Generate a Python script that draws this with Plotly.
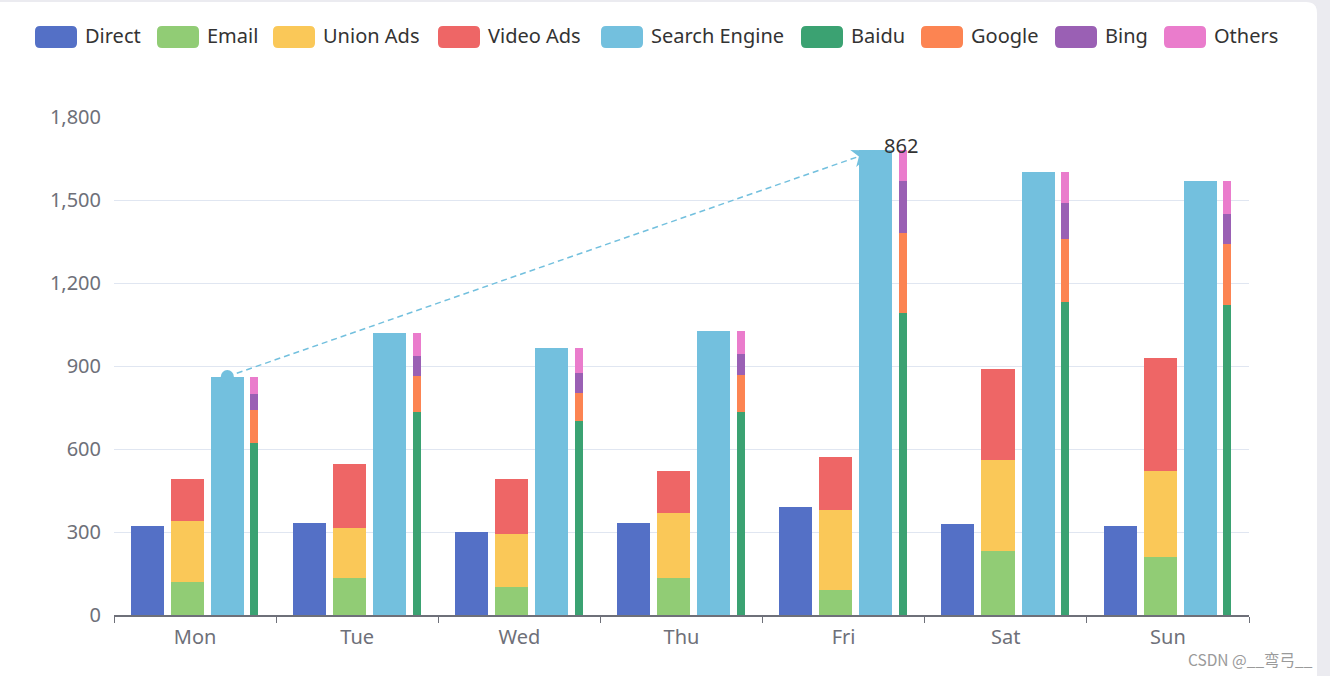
import math
import plotly.graph_objects as go

# ---------------- data ----------------
days = ["Mon", "Tue", "Wed", "Thu", "Fri", "Sat", "Sun"]
direct = [320, 332, 301, 334, 390, 330, 320]
email = [120, 132, 101, 134, 90, 230, 210]
union_ads = [220, 182, 191, 234, 290, 330, 310]
video_ads = [150, 232, 201, 154, 190, 330, 410]
search_engine = [862, 1018, 964, 1026, 1679, 1600, 1570]
baidu = [620, 732, 701, 734, 1090, 1130, 1120]
google = [120, 132, 101, 134, 290, 230, 220]
bing = [60, 72, 71, 74, 190, 130, 110]
others = [62, 82, 91, 84, 109, 110, 120]
y_ticks = [0, 300, 600, 900, 1200, 1500, 1800]

# ---------------- style ----------------
colors = {
    "Direct": "#5470c6", "Email": "#91cc75", "Union Ads": "#fac858",
    "Video Ads": "#ee6666", "Search Engine": "#73c0de", "Baidu": "#3ba272",
    "Google": "#fc8452", "Bing": "#9a60b4", "Others": "#ea7ccc",
}
FONT = "Noto Sans"
W_PX, H_PX = 1330, 676
ML, MR, MT, MB = 114, 81, 117, 61
PW, PH = W_PX - ML - MR, H_PX - MT - MB
CAT_PX = PW / len(days)
Y_MAX = 1800

def fx(p):  # pixel -> paper x
    return (p - ML) / PW

def fy(p):  # pixel -> paper y
    return (H_PX - MB - p) / PH

# bar geometry in category units
BW = 0.204
OFF_DIRECT, OFF_EMAIL, OFF_SEARCH, OFF_BAIDU = -0.397, -0.150, 0.097, 0.341
BW_THIN = 0.050

fig = go.Figure()

def add_stack(names_vals, offset, width):
    base = [0] * len(days)
    for name, vals in names_vals:
        fig.add_trace(go.Bar(
            x=days, y=vals, base=list(base), name=name,
            offset=offset, width=width,
            marker=dict(color=colors[name], line=dict(width=0)),
            showlegend=False,
        ))
        base = [b + v for b, v in zip(base, vals)]

add_stack([("Direct", direct)], OFF_DIRECT, BW)
add_stack([("Email", email), ("Union Ads", union_ads), ("Video Ads", video_ads)], OFF_EMAIL, BW)
add_stack([("Search Engine", search_engine)], OFF_SEARCH, BW)
add_stack([("Baidu", baidu), ("Google", google), ("Bing", bing), ("Others", others)], OFF_BAIDU, BW_THIN)

shapes = []
annotations = []

# card background
r = 11
cx0, cx1, cy0, cy1 = 0, 1317, 2, 700
path = (f"M {fx(cx0)} {fy(cy0)} L {fx(cx1 - r)} {fy(cy0)} "
        f"Q {fx(cx1)} {fy(cy0)} {fx(cx1)} {fy(cy0 + r)} "
        f"L {fx(cx1)} {fy(cy1)} L {fx(cx0)} {fy(cy1)} Z")
shapes.append(dict(type="path", xref="paper", yref="paper", path=path,
                   fillcolor="white", line=dict(width=0), layer="below"))

# markLine min -> max on Search Engine
smin, smax = min(search_engine), max(search_engine)
imin, imax = search_engine.index(smin), search_engine.index(smax)
cen = OFF_SEARCH + BW / 2
x_start, x_end = imin + cen, imax + cen
ml_color = "#73c0de"
shapes.append(dict(type="line", xref="x", yref="y", x0=x_start, y0=smin, x1=x_end, y1=smax,
                   line=dict(color=ml_color, width=1.5, dash="6px,4px"), layer="above"))
# start circle
shapes.append(dict(type="circle", xref="x", yref="y", xsizemode="pixel", ysizemode="pixel",
                   xanchor=x_start, yanchor=smin, x0=-6.5, x1=6.5, y0=-6.5, y1=6.5,
                   fillcolor=ml_color, line=dict(width=0), layer="above"))
# arrow head at end (ECharts-style arrow symbol)
dxp = (x_end - x_start) * CAT_PX
dyp = (smax - smin) / Y_MAX * PH
ang = math.atan2(dyp, dxp)
ux, uy = math.cos(ang), math.sin(ang)
nx, ny = -uy, ux
L, HW, NOTCH = 24, 9, 18
pts = [(0, 0), (-L * ux + HW * nx, -L * uy + HW * ny), (-NOTCH * ux, -NOTCH * uy),
       (-L * ux - HW * nx, -L * uy - HW * ny)]
apath = "M " + " L ".join(f"{a:.2f} {b:.2f}" for a, b in pts) + " Z"
shapes.append(dict(type="path", xref="x", yref="y", xsizemode="pixel", ysizemode="pixel",
                   xanchor=x_end, yanchor=smax, path=apath,
                   fillcolor=ml_color, line=dict(width=0), layer="above"))
annotations.append(dict(x=x_end, y=smax, xref="x", yref="y", text=str(smin), showarrow=False,
                        xanchor="left", yanchor="middle", xshift=6, yshift=5,
                        font=dict(family=FONT, size=20, color="#333")))

# custom legend
legend_names = ["Direct", "Email", "Union Ads", "Video Ads", "Search Engine",
                "Baidu", "Google", "Bing", "Others"]
legend_x = [35, 157, 273, 438, 601, 801, 921, 1055, 1164]
for name, lx in zip(legend_names, legend_x):
    x0, x1, y0, y1, rr = lx, lx + 42, 26, 48, 5
    p = (f"M {fx(x0 + rr)} {fy(y0)} L {fx(x1 - rr)} {fy(y0)} Q {fx(x1)} {fy(y0)} {fx(x1)} {fy(y0 + rr)} "
         f"L {fx(x1)} {fy(y1 - rr)} Q {fx(x1)} {fy(y1)} {fx(x1 - rr)} {fy(y1)} "
         f"L {fx(x0 + rr)} {fy(y1)} Q {fx(x0)} {fy(y1)} {fx(x0)} {fy(y1 - rr)} "
         f"L {fx(x0)} {fy(y0 + rr)} Q {fx(x0)} {fy(y0)} {fx(x0 + rr)} {fy(y0)} Z")
    shapes.append(dict(type="path", xref="paper", yref="paper", path=p,
                       fillcolor=colors[name], line=dict(width=0), layer="above"))
    annotations.append(dict(x=fx(lx + 48), y=fy(36), xref="paper", yref="paper", text=name,
                            showarrow=False, xanchor="left", yanchor="middle",
                            font=dict(family=FONT, size=20, color="#333")))

# watermark
annotations.append(dict(x=fx(1315), y=fy(659), xref="paper", yref="paper",
                        text="CSDN @__弯弓__", showarrow=False, xanchor="right", yanchor="middle",
                        font=dict(family="Noto Sans CJK SC", size=15.5, color="#9a9a9a")))

fig.update_layout(
    width=W_PX, height=H_PX,
    margin=dict(l=ML, r=MR, t=MT, b=MB, pad=0),
    paper_bgcolor="#ebebf0", plot_bgcolor="rgba(0,0,0,0)",
    barmode="overlay", bargap=0,
    shapes=shapes, annotations=annotations,
    showlegend=False,
    xaxis=dict(type="category", range=[-0.5, len(days) - 0.5], showgrid=False,
               showline=True, linecolor="#6e7079", linewidth=1.5,
               ticks="outside", tickson="boundaries", ticklen=6, tickcolor="#6e7079",
               tickfont=dict(family=FONT, size=20, color="#6e7079"), ticklabelstandoff=3,
               zeroline=False, fixedrange=True),
    yaxis=dict(range=[0, Y_MAX], tickvals=y_ticks, tickformat=",",
               showgrid=True, gridcolor="#e0e6f1", gridwidth=1.2,
               showline=False, zeroline=False, ticks="",
               tickfont=dict(family=FONT, size=20, color="#6e7079"), ticklabelstandoff=12,
               fixedrange=True),
)

fig.write_html(
    "out.html",
    config={"displayModeBar": False},
    post_script="document.body.style.margin='0';document.body.style.overflow='hidden';",
)
